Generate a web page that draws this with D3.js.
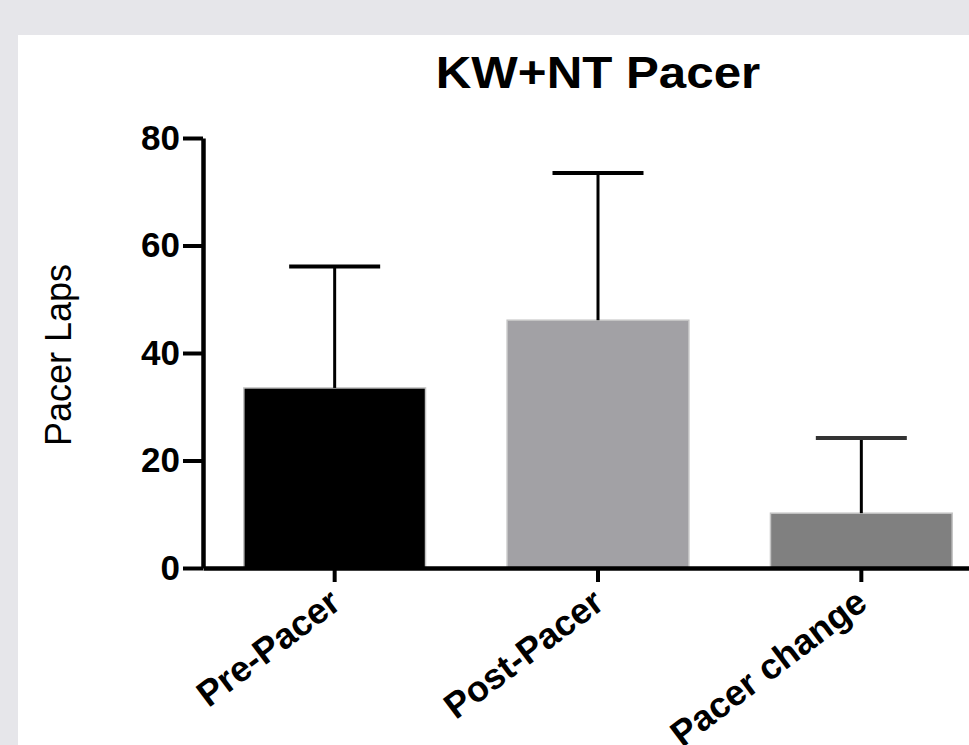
<!DOCTYPE html>
<html>
<head>
<meta charset="utf-8">
<script src="https://cdn.jsdelivr.net/npm/d3@7"></script>
<style>
  body { margin: 0; background: #e6e6ea; }
  svg { display: block; }
  text { font-family: "Liberation Sans", Arial, Helvetica, sans-serif; fill: #000; }
</style>
</head>
<body>
<figure id="chart_view" style="margin:0"></figure>
<script>
// data
const categories = ["Pre-Pacer", "Post-Pacer", "Pacer change"];
const means = [33.5, 46.1, 10.2];
const errTops = [56.1, 73.5, 24.2];
const barColors = ["#000000", "#a2a1a5", "#808080"];
const yTicks = [0, 20, 40, 60, 80];
const title = "KW+NT Pacer";
const yTitle = "Pacer Laps";

const width = 969;
const height = 745;

const svg = d3.select("figure#chart_view")
  .append("svg")
  .attr("width", width)
  .attr("height", height);

// white panel
svg.append("rect")
  .attr("x", 18).attr("y", 35)
  .attr("width", width - 18).attr("height", height - 35)
  .attr("fill", "#fff");

const x = d3.scaleBand()
  .domain(categories)
  .range([203, 993])
  .paddingInner(0.31)
  .paddingOuter(0.155);

const y = d3.scaleLinear()
  .domain([0, 80])
  .range([568, 138]);

// bars
svg.append("g")
  .selectAll("rect")
  .data(categories)
  .join("rect")
  .attr("x", d => x(d))
  .attr("y", (d, i) => y(means[i]))
  .attr("width", x.bandwidth())
  .attr("height", (d, i) => y(0) - y(means[i]))
  .attr("fill", (d, i) => barColors[i])
  .attr("stroke", "#c4c4c4")
  .attr("stroke-width", 1.5);

// error bars (upper only)
const err = svg.append("g").attr("stroke", "#000").attr("stroke-width", 3);
err.selectAll("line.stem")
  .data(categories)
  .join("line")
  .attr("class", "stem")
  .attr("x1", d => x(d) + x.bandwidth() / 2)
  .attr("x2", d => x(d) + x.bandwidth() / 2)
  .attr("y1", (d, i) => y(means[i]))
  .attr("y2", (d, i) => y(errTops[i]));
err.selectAll("line.cap")
  .data(categories)
  .join("line")
  .attr("class", "cap")
  .attr("x1", d => x(d) + x.bandwidth() / 2 - 45.5)
  .attr("x2", d => x(d) + x.bandwidth() / 2 + 45.5)
  .attr("y1", (d, i) => y(errTops[i]))
  .attr("y2", (d, i) => y(errTops[i]))
  .attr("stroke", (d, i) => i == 2 ? "#333" : "#000")
  .attr("stroke-width", 4);

// x axis
const xAxis = svg.append("g")
  .attr("transform", "translate(0," + y(0) + ")")
  .call(d3.axisBottom(x).tickSize(14).tickSizeOuter(0).tickFormat(""));
xAxis.select(".domain").attr("stroke", "#000").attr("stroke-width", 4.5);
xAxis.selectAll(".tick line").attr("stroke", "#000").attr("stroke-width", 4);

svg.append("g")
  .selectAll("text")
  .data(categories)
  .join("text")
  .attr("transform", d => "translate(" + (x(d) + x.bandwidth() / 2 + 8) + ",607) rotate(-37)")
  .attr("text-anchor", "end")
  .attr("font-size", 36)
  .attr("font-weight", "bold")
  .text(d => d);

// y axis
const yAxis = svg.append("g")
  .attr("transform", "translate(203,0)")
  .call(d3.axisLeft(y).tickValues(yTicks).tickSize(20).tickSizeOuter(0).tickPadding(3));
yAxis.select(".domain").attr("stroke", "#000").attr("stroke-width", 4.5);
yAxis.selectAll(".tick line").attr("stroke", "#000").attr("stroke-width", 4);
yAxis.selectAll(".tick text")
  .attr("font-size", 35)
  .attr("font-weight", "bold")
  .attr("font-family", "'Liberation Sans', Arial, sans-serif")
  .attr("fill", "#000");

// titles
svg.append("text")
  .attr("transform", "translate(598,88) scale(1.12,1)")
  .attr("text-anchor", "middle")
  .attr("font-size", 44)
  .attr("font-weight", "bold")
  .text(title);

svg.append("text")
  .attr("transform", "translate(71,355) rotate(-90)")
  .attr("text-anchor", "middle")
  .attr("font-size", 36)
  .text(yTitle);
</script>
</body>
</html>
